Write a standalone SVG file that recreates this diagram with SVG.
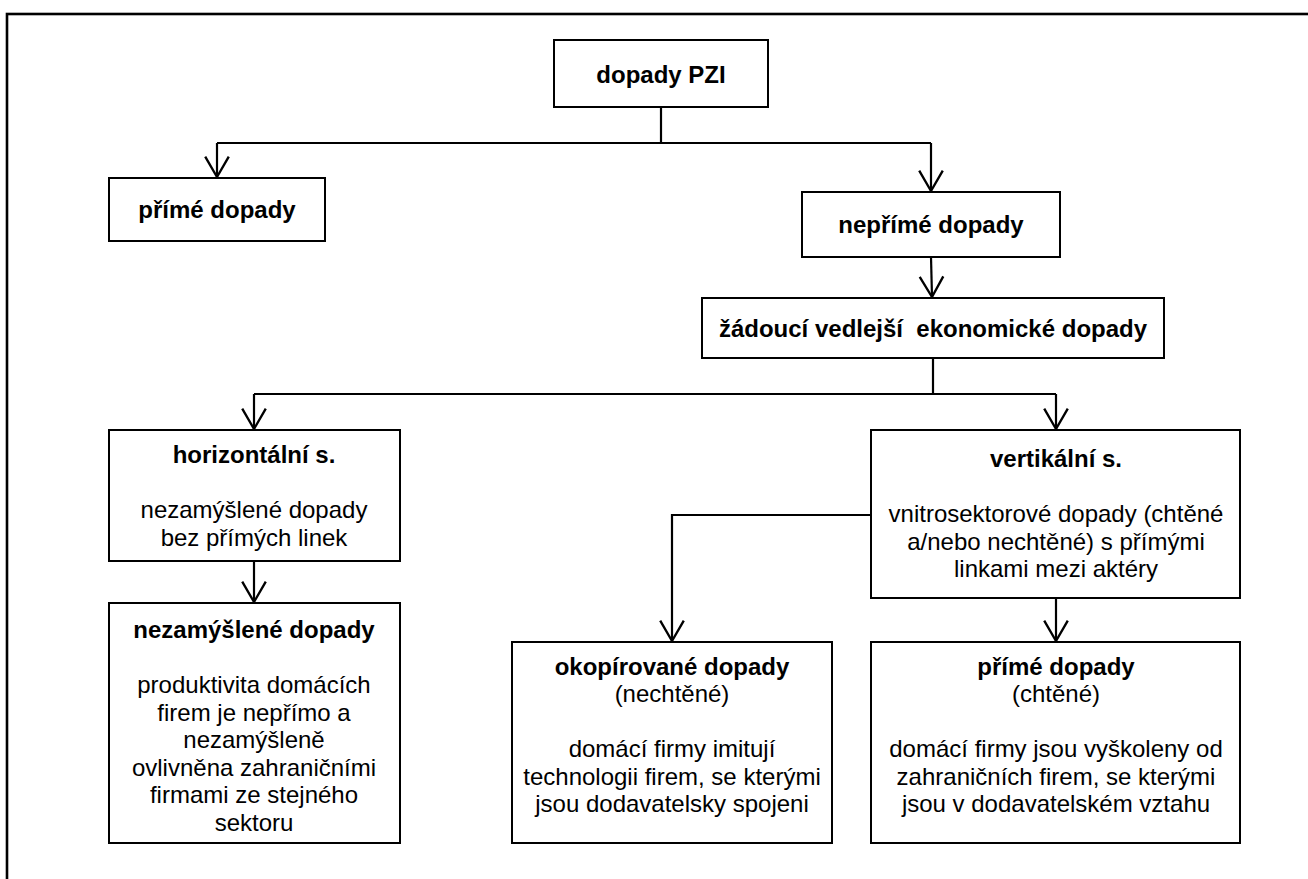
<svg xmlns="http://www.w3.org/2000/svg" width="1308" height="879" viewBox="0 0 1308 879">
<style>
.box{fill:#fff;stroke:#000;stroke-width:2}
.t{font-family:"Liberation Sans",Arial,sans-serif;font-size:24px;fill:#000;text-anchor:middle}
.b{font-weight:bold}
.c{fill:none;stroke:#000;stroke-width:2.2}
</style>
<defs>
<marker id="arr" markerUnits="userSpaceOnUse" markerWidth="30" markerHeight="30" viewBox="-22 -14 26 28" refX="0" refY="0" orient="auto" overflow="visible">
<path d="M-19,-11 L0,0 L-19,11" fill="none" stroke="#000" stroke-width="2.2"/>
</marker>
</defs>
<rect x="7" y="14" width="1400" height="1000" fill="#fff" stroke="#000" stroke-width="2.6"/>
<g id="connectors">
<path class="c" d="M661,107 V143"/>
<path class="c" d="M217,143 H931"/>
<path class="c" d="M217,143 V177" marker-end="url(#arr)"/>
<path class="c" d="M931,143 V191" marker-end="url(#arr)"/>
<path class="c" d="M931,257 L932,297" marker-end="url(#arr)"/>
<path class="c" d="M933,358 V394"/>
<path class="c" d="M254,394 H1056"/>
<path class="c" d="M254,394 V429" marker-end="url(#arr)"/>
<path class="c" d="M1056,394 V429" marker-end="url(#arr)"/>
<path class="c" d="M254,561 V602" marker-end="url(#arr)"/>
<path class="c" d="M871,515 H672 V641" marker-end="url(#arr)"/>
<path class="c" d="M1056,598 V641" marker-end="url(#arr)"/>
</g>
<g id="n-pzi">
<rect class="box" x="554" y="40" width="214" height="67"/>
<text class="t b" x="661" y="83">dopady PZI</text>
</g>
<g id="n-prime">
<rect class="box" x="109" y="178" width="216" height="63"/>
<text class="t b" x="217" y="218">přímé dopady</text>
</g>
<g id="n-neprime">
<rect class="box" x="802" y="192" width="258" height="65"/>
<text class="t b" x="931" y="233">nepřímé dopady</text>
</g>
<g id="n-zadouci">
<rect class="box" x="702" y="298" width="462" height="60"/>
<text class="t b" x="933" y="337" xml:space="preserve">žádoucí vedlejší  ekonomické dopady</text>
</g>
<g id="n-horiz">
<rect class="box" x="109" y="430" width="291" height="131"/>
<text class="t b" x="254" y="463">horizontální s.</text>
<text class="t" x="254" y="518">nezamýšlené dopady</text>
<text class="t" x="254" y="546">bez přímých linek</text>
</g>
<g id="n-vert">
<rect class="box" x="871" y="430" width="369" height="168"/>
<text class="t b" x="1056" y="467">vertikální s.</text>
<text class="t" x="1056" y="522">vnitrosektorové dopady (chtěné</text>
<text class="t" x="1056" y="549.5">a/nebo nechtěné) s přímými</text>
<text class="t" x="1056" y="577">linkami mezi aktéry</text>
</g>
<g id="n-nezam">
<rect class="box" x="109" y="603" width="291" height="240"/>
<text class="t b" x="254" y="638">nezamýšlené dopady</text>
<text class="t" x="254" y="693">produktivita domácích</text>
<text class="t" x="254" y="720.5">firem je nepřímo a</text>
<text class="t" x="254" y="748">nezamýšleně</text>
<text class="t" x="254" y="775.5">ovlivněna zahraničními</text>
<text class="t" x="254" y="803">firmami ze stejného</text>
<text class="t" x="254" y="830.5">sektoru</text>
</g>
<g id="n-okop">
<rect class="box" x="512" y="642" width="320" height="201"/>
<text class="t b" x="672" y="675">okopírované dopady</text>
<text class="t" x="672" y="702">(nechtěné)</text>
<text class="t" x="672" y="757">domácí firmy imitují</text>
<text class="t" x="672" y="784.5">technologii firem, se kterými</text>
<text class="t" x="672" y="812">jsou dodavatelsky spojeni</text>
</g>
<g id="n-prime2">
<rect class="box" x="871" y="642" width="369" height="201"/>
<text class="t b" x="1056" y="675">přímé dopady</text>
<text class="t" x="1056" y="702">(chtěné)</text>
<text class="t" x="1056" y="757">domácí firmy jsou vyškoleny od</text>
<text class="t" x="1056" y="784.5">zahraničních firem, se kterými</text>
<text class="t" x="1056" y="812">jsou v dodavatelském vztahu</text>
</g>
</svg>
